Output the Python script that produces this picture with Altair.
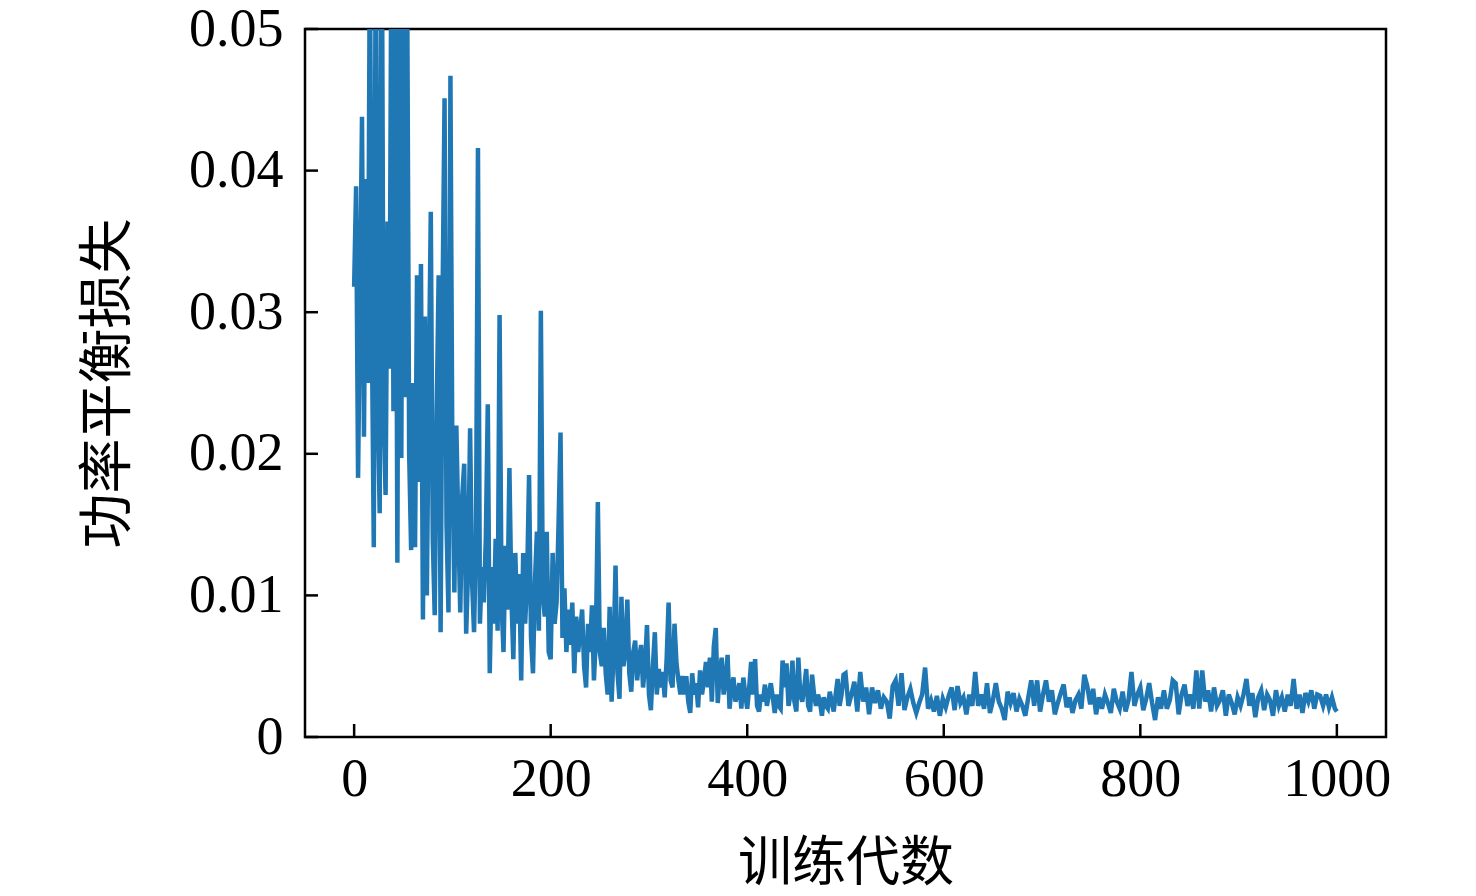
import altair as alt
import pandas as pd

# Segment 1: epochs 0..198, every 2 epochs
seg1_start, seg1_step = 0, 2
seg1_loss = [
    0.0318, 0.0389, 0.0183, 0.0310, 0.0438, 0.0212, 0.0394, 0.0250, 0.0560, 0.0290,
    0.0134, 0.0580, 0.0240, 0.0158, 0.0620, 0.0230, 0.0171, 0.0364, 0.0260, 0.0580,
    0.0230, 0.0540, 0.0123, 0.0600, 0.0197, 0.0570, 0.0240, 0.0530, 0.0200, 0.0132,
    0.0250, 0.0134, 0.0326, 0.0180, 0.0334, 0.0083, 0.0297, 0.0100, 0.0250, 0.0371,
    0.0140, 0.0086, 0.0230, 0.0326, 0.0074, 0.0310, 0.0451, 0.0150, 0.0088, 0.0467,
    0.0190, 0.0102, 0.0220, 0.0150, 0.0088, 0.0170, 0.0193, 0.0073, 0.0120, 0.0218,
    0.0110, 0.0074, 0.0140, 0.0416, 0.0080, 0.0120, 0.0095, 0.0140, 0.0235, 0.0045,
    0.0120, 0.0080, 0.0140, 0.0075, 0.0298, 0.0095, 0.0060, 0.0135, 0.0090, 0.0190,
    0.0100, 0.0055, 0.0130, 0.0080, 0.0115, 0.0040, 0.0130, 0.0080, 0.0110, 0.0185,
    0.0070, 0.0045, 0.0110, 0.0145, 0.0075, 0.0301, 0.0100, 0.0085, 0.0145, 0.0060,
]

# Segment 2: epochs 200..498, every 2 epochs
seg2_start, seg2_step = 200, 2
seg2_loss = [
    0.0055, 0.0130, 0.0080, 0.0095, 0.0150, 0.0215, 0.0070, 0.0105, 0.0060, 0.0090,
    0.0065, 0.0095, 0.0045, 0.0085, 0.0060, 0.0075, 0.0090, 0.0050, 0.0035, 0.0080,
    0.0060, 0.0093, 0.0040, 0.0070, 0.0166, 0.0060, 0.0050, 0.0077, 0.0045, 0.0030,
    0.0092, 0.0025, 0.0060, 0.0121, 0.0045, 0.0027, 0.0099, 0.0050, 0.0060, 0.0097,
    0.0045, 0.0032, 0.0060, 0.0068, 0.0040, 0.0055, 0.0065, 0.0035, 0.0050, 0.0079,
    0.0030, 0.0019, 0.0050, 0.0074, 0.0030, 0.0048, 0.0035, 0.0046, 0.0028, 0.0055,
    0.0095, 0.0040, 0.0035, 0.0080, 0.0052, 0.0040, 0.0030, 0.0043, 0.0030, 0.0043,
    0.0025, 0.0017, 0.0045, 0.0030, 0.0038, 0.0021, 0.0047, 0.0030, 0.0040, 0.0053,
    0.0035, 0.0056, 0.0025, 0.0064, 0.0077, 0.0024, 0.0045, 0.0056, 0.0030, 0.0040,
    0.0058, 0.0020, 0.0035, 0.0042, 0.0025, 0.0030, 0.0038, 0.0020, 0.0042, 0.0030,
    0.0020, 0.0035, 0.0053, 0.0030, 0.0055, 0.0022, 0.0018, 0.0030, 0.0025, 0.0037,
    0.0022, 0.0030, 0.0038, 0.0028, 0.0017, 0.0030, 0.0022, 0.0020, 0.0054, 0.0035,
    0.0052, 0.0022, 0.0030, 0.0054, 0.0025, 0.0018, 0.0056, 0.0030, 0.0025, 0.0035,
    0.0048, 0.0022, 0.0018, 0.0044, 0.0030, 0.0022, 0.0030, 0.0025, 0.0015, 0.0028,
    0.0022, 0.0020, 0.0032, 0.0025, 0.0018, 0.0030, 0.0041, 0.0022, 0.0030, 0.0044,
]

# Segment 3: epochs 500..998, every 3 epochs
seg3_start, seg3_step = 500, 3
seg3_loss = [
    0.0045, 0.0022, 0.0030, 0.0039, 0.0018, 0.0046, 0.0025, 0.0035, 0.0016, 0.0035,
    0.0024, 0.0033, 0.0020, 0.0028, 0.0025, 0.0013, 0.0036, 0.0040, 0.0022, 0.0045,
    0.0019, 0.0028, 0.0034, 0.0024, 0.0017, 0.0024, 0.0030, 0.0049, 0.0020, 0.0026,
    0.0018, 0.0029, 0.0015, 0.0027, 0.0021, 0.0029, 0.0035, 0.0019, 0.0036, 0.0024,
    0.0028, 0.0016, 0.0030, 0.0022, 0.0046, 0.0022, 0.0030, 0.0020, 0.0038, 0.0017,
    0.0026, 0.0038, 0.0025, 0.0020, 0.0012, 0.0032, 0.0024, 0.0031, 0.0018, 0.0027,
    0.0022, 0.0015, 0.0028, 0.0040, 0.0022, 0.0040, 0.0018, 0.0030, 0.0040, 0.0025,
    0.0033, 0.0016, 0.0024, 0.0031, 0.0037, 0.0021, 0.0028, 0.0017, 0.0026, 0.0030,
    0.0020, 0.0044, 0.0036, 0.0023, 0.0034, 0.0016, 0.0028, 0.0020, 0.0030, 0.0024,
    0.0017, 0.0034, 0.0025, 0.0020, 0.0032, 0.0018, 0.0026, 0.0046, 0.0022, 0.0030,
    0.0035, 0.0019, 0.0027, 0.0038, 0.0024, 0.0012, 0.0028, 0.0020, 0.0033, 0.0020,
    0.0026, 0.0040, 0.0038, 0.0016, 0.0030, 0.0037, 0.0022, 0.0030, 0.0020, 0.0047,
    0.0020, 0.0047, 0.0025, 0.0033, 0.0018, 0.0035, 0.0022, 0.0026, 0.0033, 0.0015,
    0.0030, 0.0024, 0.0016, 0.0028, 0.0022, 0.0030, 0.0041, 0.0022, 0.0031, 0.0014,
    0.0028, 0.0033, 0.0019, 0.0030, 0.0026, 0.0015, 0.0033, 0.0022, 0.0028, 0.0018,
    0.0030, 0.0022, 0.0041, 0.0020, 0.0030, 0.0017, 0.0031, 0.0025, 0.0033, 0.0020,
    0.0030, 0.0029, 0.0022, 0.0030, 0.0021, 0.0028, 0.0020,
]

# Final point
seg4_start, seg4_step = 1000, 1
seg4_loss = [0.0018]

x_ticks = [0, 200, 400, 600, 800, 1000]
y_ticks = [0, 0.01, 0.02, 0.03, 0.04, 0.05]
x_title = "训练代数"
y_title = "功率平衡损失"

rows = []
for start, step, vals in [(seg1_start, seg1_step, seg1_loss),
                          (seg2_start, seg2_step, seg2_loss),
                          (seg3_start, seg3_step, seg3_loss),
                          (seg4_start, seg4_step, seg4_loss)]:
    for i, v in enumerate(vals):
        rows.append({"epoch": start + step * i, "loss": v})
df = pd.DataFrame(rows)
df = df[df["epoch"] <= 1000]

W, H = 1081, 708
NUM_FONT = "Liberation Serif"
CJK_FONT = "Noto Sans CJK SC"

xscale = alt.Scale(domain=[-50, 1050], nice=False, zero=False)
yscale = alt.Scale(domain=[0, 0.05], nice=False)

line = alt.Chart(df).mark_line(color="#1f77b4", strokeWidth=4.5, clip=True).encode(
    x=alt.X("epoch:Q", scale=xscale,
            axis=alt.Axis(values=x_ticks, title=x_title, ticks=False, domain=False, grid=False,
                          labelFont=NUM_FONT, labelFontSize=54, labelColor="black",
                          labelPadding=15, titleFont=CJK_FONT, titleFontSize=54,
                          titleFontWeight="normal", titleColor="black", titlePadding=31,
                          labelExpr="format(datum.value, 'd')")),
    y=alt.Y("loss:Q", scale=yscale,
            axis=alt.Axis(values=y_ticks, title=y_title, ticks=False, domain=False, grid=False,
                          labelFont=NUM_FONT, labelFontSize=54, labelColor="black",
                          labelPadding=22, titleFont=CJK_FONT, titleFontSize=55,
                          titleFontWeight="normal", titleColor="black", titlePadding=52,
                          labelExpr="datum.value == 0 ? '0' : format(datum.value, '.2f')")),
)

ytick_df = pd.DataFrame({"v": y_ticks})
xtick_df = pd.DataFrame({"v": x_ticks})

yticks = alt.Chart(ytick_df).mark_rule(color="black", strokeWidth=2.5).encode(
    y=alt.Y("v:Q", scale=yscale), x=alt.value(0), x2=alt.value(13)
)
xticks = alt.Chart(xtick_df).mark_rule(color="black", strokeWidth=2.5).encode(
    x=alt.X("v:Q", scale=xscale), y=alt.value(H - 13), y2=alt.value(H)
)

chart = alt.layer(line, yticks, xticks).properties(
    width=W, height=H,
    autosize=alt.AutoSizeParams(type="none"),
    padding={"left": 297, "top": 21, "right": 82, "bottom": 158},
    background="white",
).configure_view(stroke="black", strokeWidth=2.5)

chart.save("out.html", embed_options={"renderer": "svg", "actions": False})
